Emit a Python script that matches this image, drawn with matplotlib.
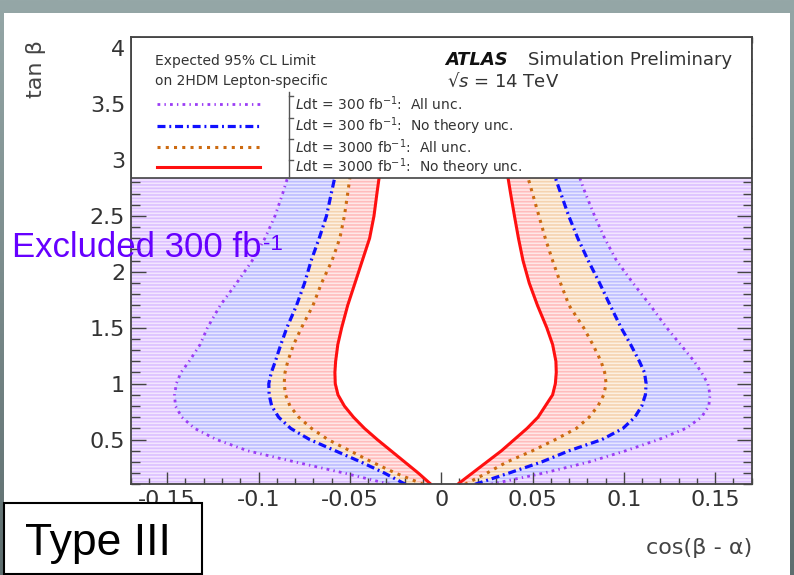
import numpy as np
import matplotlib
matplotlib.use('Agg')
import matplotlib.pyplot as plt
from matplotlib.patches import Rectangle
from matplotlib.lines import Line2D
from matplotlib.ticker import FixedLocator, MultipleLocator
from matplotlib.colors import LinearSegmentedColormap

plt.rcParams['axes.unicode_minus'] = False
plt.rcParams['mathtext.fontset'] = 'dejavusans'
plt.rcParams['hatch.linewidth'] = 1.2
plt.rcParams['font.family'] = ['DejaVu Sans']

# ---------------- data ----------------
tanb = [0.1, 0.2, 0.3, 0.4, 0.5, 0.6, 0.7, 0.8, 0.9, 1.0, 1.1, 1.2, 1.35,
        1.5, 1.7, 1.9, 2.1, 2.3, 2.5, 2.7, 2.9]

# 300 fb-1, all uncertainties (purple)
purple_left = [-0.028, -0.053, -0.080, -0.106, -0.123, -0.135, -0.142, -0.1455,
               -0.146, -0.145, -0.1425, -0.138, -0.132, -0.128, -0.121, -0.112,
               -0.1035, -0.0965, -0.091, -0.0868, -0.083]
purple_right = [0.027, 0.056, 0.081, 0.101, 0.119, 0.134, 0.1425, 0.1465, 0.1472,
                0.146, 0.1425, 0.1385, 0.131, 0.1235, 0.1145, 0.105, 0.096,
                0.0895, 0.084, 0.079, 0.0745]
# 300 fb-1, no theory uncertainties (blue)
blue_left = [-0.0196, -0.031, -0.044, -0.058, -0.072, -0.0824, -0.089, -0.0928,
             -0.0942, -0.0944, -0.093, -0.0908, -0.0878, -0.0845, -0.0792, -0.0748,
             -0.0712, -0.0668, -0.0628, -0.0602, -0.0575]
blue_right = [0.0185, 0.037, 0.055, 0.070, 0.088, 0.0995, 0.106, 0.1098, 0.1118,
              0.1122, 0.1113, 0.1085, 0.1037, 0.0985, 0.0925, 0.0867, 0.0805,
              0.0748, 0.0698, 0.0655, 0.0612]
# 3000 fb-1, all uncertainties (orange)
orange_left = [-0.0098, -0.025, -0.038, -0.050, -0.062, -0.071, -0.078, -0.0828,
               -0.0852, -0.086, -0.0855, -0.084, -0.0808, -0.0765, -0.0702, -0.0655,
               -0.0598, -0.0555, -0.053, -0.0512, -0.0495]
orange_right = [0.013, 0.025, 0.036, 0.050, 0.0625, 0.074, 0.081, 0.0858, 0.089,
                0.0903, 0.0895, 0.0875, 0.083, 0.078, 0.070, 0.0653, 0.061, 0.057,
                0.0535, 0.050, 0.0465]
# 3000 fb-1, no theory uncertainties (red)
red_left = [-0.0056, -0.0125, -0.020, -0.0275, -0.035, -0.042, -0.048, -0.053,
            -0.0565, -0.058, -0.0582, -0.0578, -0.0566, -0.0545, -0.0512, -0.0472,
            -0.0432, -0.0392, -0.0368, -0.0352, -0.0335]
red_right = [0.009, 0.017, 0.025, 0.033, 0.040, 0.047, 0.053, 0.057, 0.061, 0.0625,
             0.063, 0.0628, 0.061, 0.0578, 0.0527, 0.0482, 0.0448, 0.0423, 0.0401,
             0.038, 0.036]

legend_labels = [r"$\mathit{L}$dt = 300 fb$^{-1}$:  All unc.",
                 r"$\mathit{L}$dt = 300 fb$^{-1}$:  No theory unc.",
                 r"$\mathit{L}$dt = 3000 fb$^{-1}$:  All unc.",
                 r"$\mathit{L}$dt = 3000 fb$^{-1}$:  No theory unc."]

xticks = [-0.15, -0.1, -0.05, 0, 0.05, 0.1, 0.15]
xticklabels = ['-0.15', '-0.1', '-0.05', '0', '0.05', '0.1', '0.15']
yticks = [0.5, 1, 1.5, 2, 2.5, 3, 3.5, 4]
yticklabels = ['0.5', '1', '1.5', '2', '2.5', '3', '3.5', '4']

# ---------------- figure ----------------
W, H = 794, 575
fig = plt.figure(figsize=(W / 100, H / 100), dpi=100)

bg = fig.add_axes([0, 0, 1, 1], zorder=-10)
bg.set_axis_off()
grad = np.linspace(0, 1, 256)[:, None]
cmap = LinearSegmentedColormap.from_list('bg', ['#95a7a7', '#5e6e6f'])
bg.imshow(grad, aspect='auto', cmap=cmap, extent=[0, 1, 0, 1], origin='upper')
bg.add_patch(Rectangle((4 / W, 0), (790 - 4) / W, 1 - 13 / H,
                       transform=bg.transAxes, facecolor='white', edgecolor='none'))
bg.set_xlim(0, 1)
bg.set_ylim(0, 1)

ax = fig.add_axes([130.7 / W, 1 - 484.3 / H, 621 / W, 447.3 / H])
XL, XR = -0.17, 0.17

layers = [
    (red_left, red_right, '#ffe8e8', '#ffbcbc'),
    (orange_left, orange_right, '#fdf0e2', '#f5d3b0'),
    (blue_left, blue_right, '#e6e6ff', '#bdbdff'),
    (purple_left, purple_right, '#f3e6ff', '#dcc0ff'),
]
for lft, rgt, fc, hc in layers:
    ax.fill_betweenx(tanb, XL, lft, facecolor=fc, edgecolor=hc, hatch='-----',
                     linewidth=0, zorder=1)
    ax.fill_betweenx(tanb, rgt, XR, facecolor=fc, edgecolor=hc, hatch='-----',
                     linewidth=0, zorder=1)

styles = [
    dict(color='#9b3cf5', lw=2.0, linestyle=(0, (1, 1.5, 0.5, 1.5))),
    dict(color='#1010ff', lw=2.3, linestyle=(0, (2.5, 1.2, 0.6, 1.2))),
    dict(color='#cc6a10', lw=2.2, linestyle=(0, (1, 1.7))),
    dict(color='#ff1010', lw=2.2, linestyle='-'),
]
curves = [(purple_left, purple_right), (blue_left, blue_right),
          (orange_left, orange_right), (red_left, red_right)]
for (lft, rgt), st in zip(curves, styles):
    ax.plot(lft, tanb, zorder=2, solid_capstyle='butt', **st)
    ax.plot(rgt, tanb, zorder=2, solid_capstyle='butt', **st)

# legend box (ROOT style)
ax.add_patch(Rectangle((0, 0.685), 1, 0.315, transform=ax.transAxes,
                       facecolor='white', edgecolor='#444444', lw=1.2, zorder=2.3))
leg_y = [0.850, 0.801, 0.754, 0.709]
for yy, st, lab in zip(leg_y, styles, legend_labels):
    ax.add_line(Line2D([0.0424, 0.2082], [yy, yy], transform=ax.transAxes,
                       zorder=2.4, **st))
    ax.text(0.265, yy, lab, transform=ax.transAxes, fontsize=10, color='#333333',
            va='center', ha='left', zorder=3)
# integral-like bracket
ax.add_line(Line2D([0.255, 0.255], [0.685, 0.877], transform=ax.transAxes,
                   color='#555555', lw=1.0, zorder=2.4))
for yy in leg_y:
    ax.add_line(Line2D([0.255, 0.262], [yy + 0.017, yy + 0.017], transform=ax.transAxes,
                       color='#555555', lw=1.0, zorder=2.4))

ax.text(0.039, 0.947, 'Expected 95% CL Limit', transform=ax.transAxes, fontsize=10,
        color='#333333', va='center', ha='left', zorder=3)
ax.text(0.039, 0.902, 'on 2HDM Lepton-specific', transform=ax.transAxes, fontsize=10,
        color='#333333', va='center', ha='left', zorder=3)
ax.text((445 - 130.7) / 621, 0.9486, 'ATLAS', transform=ax.transAxes, fontsize=13,
        fontweight='bold', fontstyle='italic', color='#111111', va='center', ha='left', zorder=3)
ax.text((528 - 130.7) / 621, 0.9486, 'Simulation Preliminary', transform=ax.transAxes,
        fontsize=13, color='#333333', va='center', ha='left', zorder=3)
ax.text((447 - 130.7) / 621, 0.899, '√$s$ = 14 TeV', transform=ax.transAxes,
        fontsize=13, color='#333333', va='center', ha='left', zorder=3)

ax.set_xlim(XL, XR)
ax.set_ylim(0.1, 4.1)
ax.xaxis.set_major_locator(FixedLocator(xticks))
ax.set_xticklabels(xticklabels)
ax.xaxis.set_minor_locator(MultipleLocator(0.01))
ax.yaxis.set_major_locator(FixedLocator(yticks))
ax.set_yticklabels(yticklabels)
ax.yaxis.set_minor_locator(MultipleLocator(0.1))
ax.tick_params(axis='both', which='both', direction='in', top=True, right=True,
               color='#444444', labelcolor='#333333')
ax.tick_params(axis='x', which='major', length=9, width=1, pad=4, labelsize=16)
ax.tick_params(axis='x', which='minor', length=4, width=1)
ax.tick_params(axis='y', which='major', length=11, width=1, pad=4, labelsize=16)
ax.tick_params(axis='y', which='minor', length=6.5, width=1)
for sp in ax.spines.values():
    sp.set_color('#444444')
    sp.set_linewidth(1.3)

fig.text(36 / W, 1 - 40 / H, 'tan β', rotation=90, ha='center', va='top',
         fontsize=16, color='#444444')
fig.text(752 / W, 1 - 548 / H, 'cos(β - α)', ha='right', va='center',
         fontsize=16, color='#444444')

# slide annotations
t1 = fig.text(12 / W, 1 - 257 / H, 'Excluded 300 fb', ha='left', va='baseline',
              fontsize=25, color='#6600ff', family='Liberation Sans')
renderer = fig.canvas.get_renderer()
bb = t1.get_window_extent(renderer=renderer)
fig.text((bb.x1 + 1) / W, (bb.y0 + 14) / H, '-1', ha='left', va='baseline',
         fontsize=16, color='#6600ff', family='Liberation Sans')

fig.add_artist(Rectangle((4 / W, 1 / H), 198 / W, 71 / H, transform=fig.transFigure,
                         facecolor='white', edgecolor='black', lw=1.5, zorder=5))
fig.text(25 / W, 1 - 555 / H, 'Type III', ha='left', va='baseline', fontsize=32,
         family='Liberation Sans', color='black', zorder=6)

fig.savefig('out.png', dpi=100)
